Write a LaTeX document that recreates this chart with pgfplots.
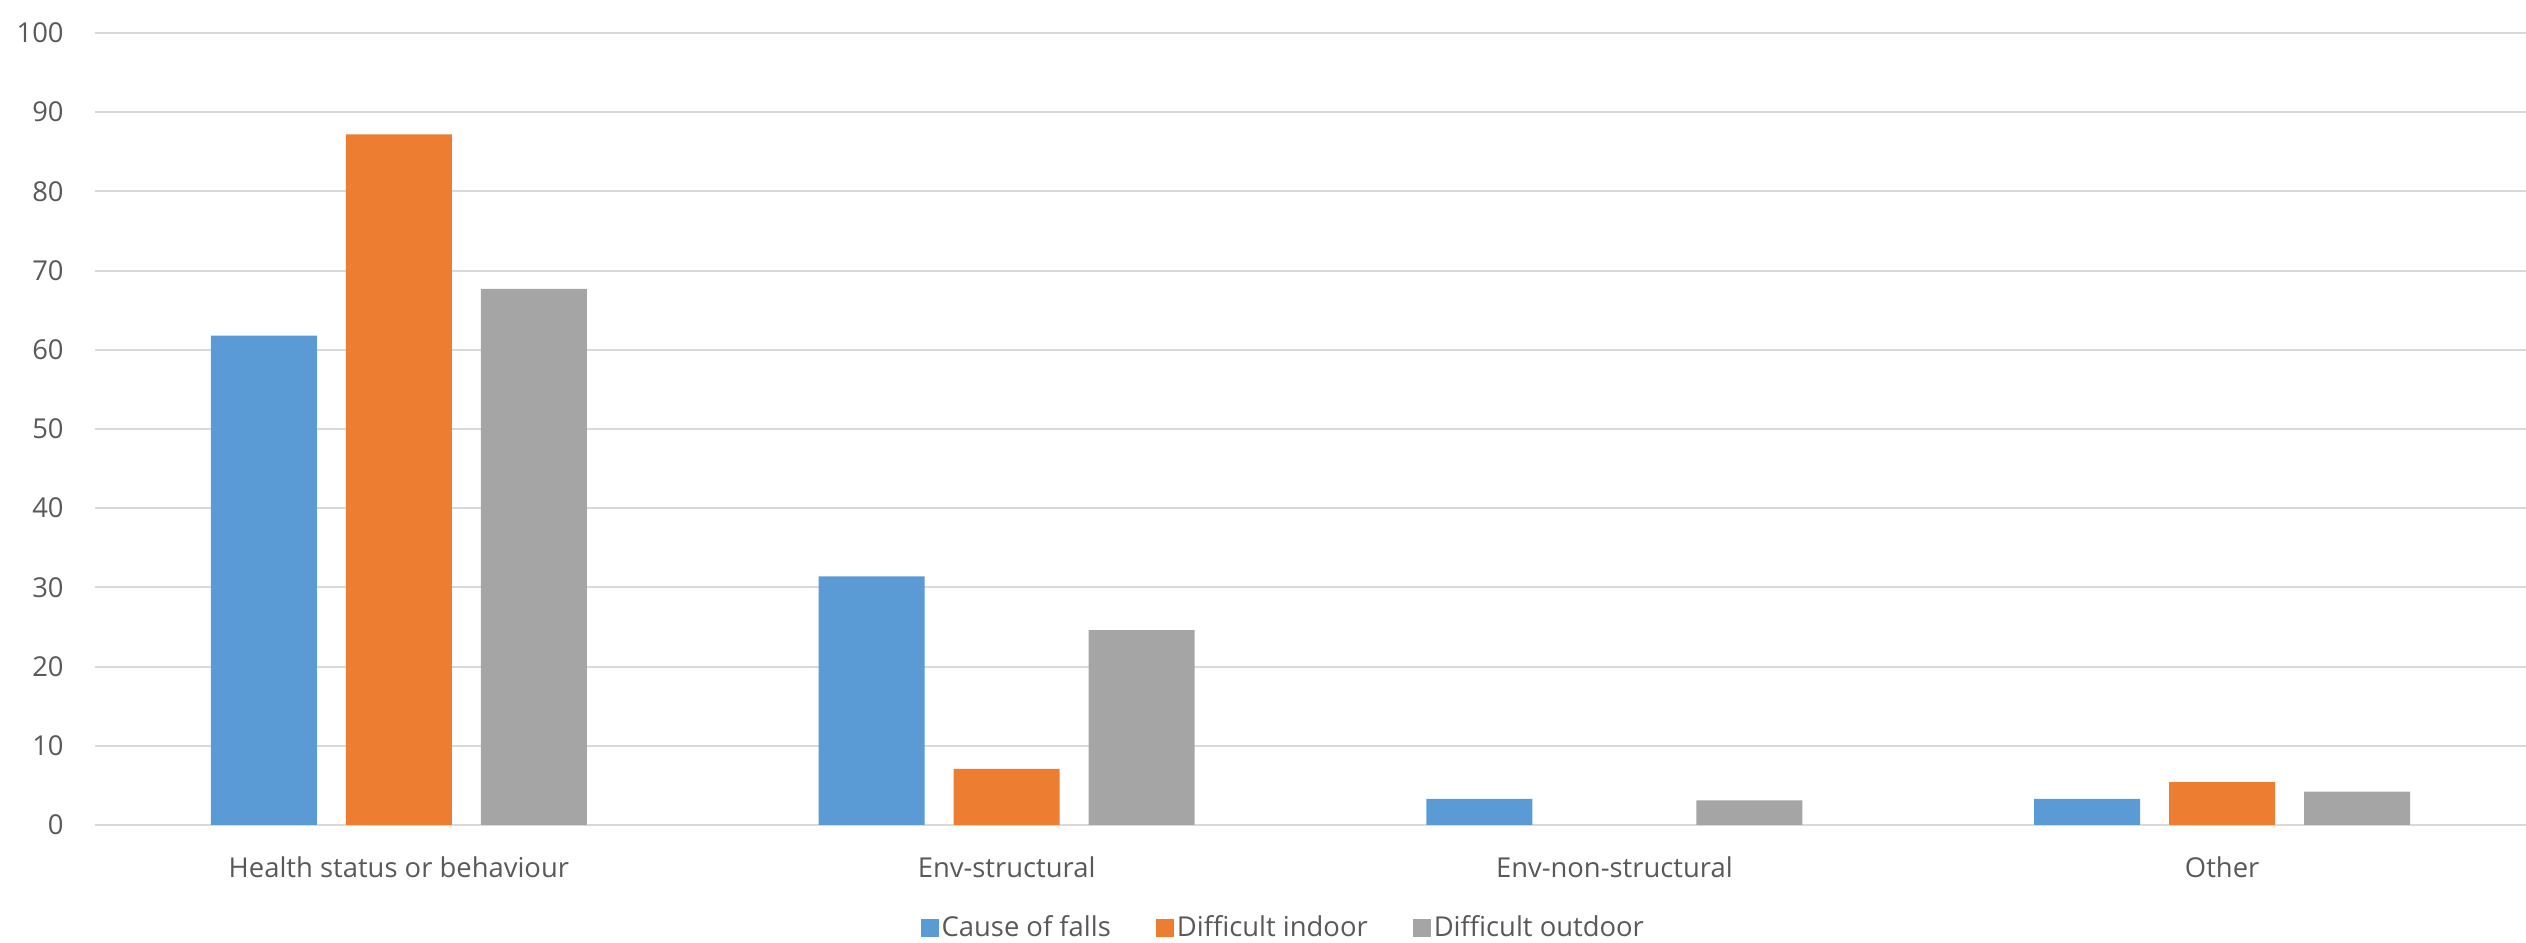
\documentclass[border=0pt]{standalone}
\usepackage{pgfplots}
\pgfplotsset{compat=1.18}
\usepackage{fontspec}
\setmainfont{Open Sans}
\definecolor{cblue}{HTML}{5B9BD5}
\definecolor{corange}{HTML}{ED7D31}
\definecolor{cgray}{HTML}{A5A5A5}
\definecolor{ctext}{HTML}{595959}
\definecolor{cgrid}{HTML}{D9D9D9}
\begin{document}
\begin{tikzpicture}
\useasboundingbox (0,0) rectangle (1263bp,471.5bp);
\begin{axis}[
  at={(47.5bp,59bp)}, anchor=south west,
  scale only axis,
  width=1215.5bp, height=396bp,
  ybar=14.5bp, bar width=53bp,
  xmin=-0.5, xmax=3.5,
  ymin=0, ymax=100,
  xtick={0,1,2,3},
  xticklabels={Health status or behaviour, Env-structural, Env-non-structural, Other},
  ytick={0,10,...,100},
  ymajorgrids,
  grid style={cgrid, line width=1bp},
  axis line style={draw=none},
  major tick length=0pt,
  /pgf/number format/assume math mode=true,
  tick label style={font=\fontsize{13.7bp}{16bp}\selectfont, text=ctext},
  yticklabel style={anchor=east, inner sep=0pt, xshift=-15.5bp},
  xticklabel style={anchor=north, inner sep=0pt, yshift=-15.5bp},
  legend columns=3,
  legend style={at={(0.489,-0.130)}, anchor=center, draw=none, fill=none,
    font=\fontsize{13.7bp}{16bp}\selectfont, text=ctext,
    /tikz/every even column/.append style={column sep=21bp},
    nodes={inner sep=1.5bp}},
  legend image code/.code={\fill[#1, draw=none] (0bp,-4.5bp) rectangle (9bp,4.5bp);},
]
\addplot[fill=cblue, draw=none] coordinates {(0,61.8) (1,31.4) (2,3.3) (3,3.3)};
\addplot[fill=corange, draw=none] coordinates {(0,87.2) (1,7.1) (3,5.4)};
\addplot[fill=cgray, draw=none] coordinates {(0,67.7) (1,24.6) (2,3.1) (3,4.2)};
\legend{Cause of falls, Difficult indoor, Difficult outdoor}
\end{axis}
\end{tikzpicture}
\end{document}
